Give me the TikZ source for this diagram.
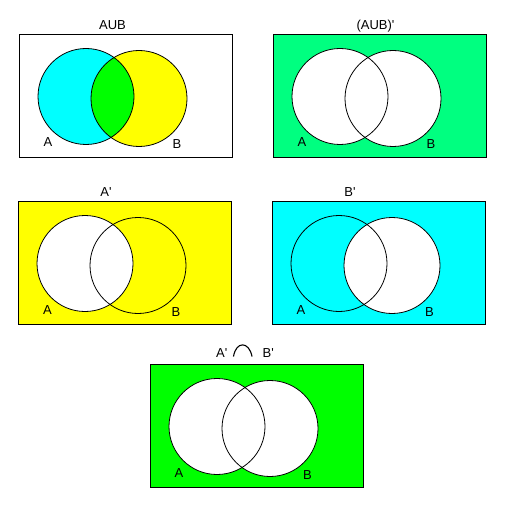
\documentclass[tikz,border=0pt]{standalone}
\usepackage{fontspec}
\setmainfont{Liberation Sans}[Ligatures=TeXOff]
\definecolor{springgrn}{RGB}{0,255,128}
\definecolor{purecyan}{RGB}{0,255,255}
\definecolor{pureyellow}{RGB}{255,255,0}
\definecolor{puregreen}{RGB}{0,255,0}
\tikzset{
    outline/.style={draw=black, line width=0.8pt},
    txt/.style={font=\fontsize{13}{15}\selectfont, inner sep=0pt, anchor=base},
}
\begin{document}
\begin{tikzpicture}[x=1pt, y=-1pt]
        \useasboundingbox (0,0) rectangle (526,510);
        % A U B
        \begin{scope}[shift={(19,34)}]
            \fill[purecyan] (67,62.5) circle (48pt);
            \fill[pureyellow] (120,64.5) circle (48pt);
            \begin{scope}
                \clip (67,62.5) circle (48pt);
                \fill[puregreen] (120,64.5) circle (48pt);
            \end{scope}
            \draw[outline] (67,62.5) circle (48pt);
            \draw[outline] (120,64.5) circle (48pt);
            \draw[outline] (0,0) rectangle (213,123);
            \node[txt] (t1) at (93.5,-4.7) {AUB};
            \node[txt] (a1) at (29,113) {A};
            \node[txt] (b1) at (158,114.7) {B};
        \end{scope}
        % (A U B)'
        \begin{scope}[shift={(273,34)}]
            \fill[springgrn] (0,0) rectangle (213,123);
            \fill[white] (67,62.5) circle (48pt);
            \fill[white] (120,64.5) circle (48pt);
            \draw[outline] (67,62.5) circle (48pt);
            \draw[outline] (120,64.5) circle (48pt);
            \draw[outline] (0,0) rectangle (213,123);
            \node[txt] (t2) at (102.5,-4.7) {(AUB)'};
            \node[txt] (a2) at (29,113) {A};
            \node[txt] (b2) at (158,114.7) {B};
        \end{scope}
        % A'
        \begin{scope}[shift={(18,201)}]
            \fill[pureyellow] (0,0) rectangle (213,123);
            \fill[white] (67,62.5) circle (48pt);
            \draw[outline] (67,62.5) circle (48pt);
            \draw[outline] (120,64.5) circle (48pt);
            \draw[outline] (0,0) rectangle (213,123);
            \node[txt] (t3) at (88,-4.5) {A'};
            \node[txt] (a3) at (29.5,113) {A};
            \node[txt] (b3) at (158,115.5) {B};
        \end{scope}
        % B'
        \begin{scope}[shift={(272,201)}]
            \fill[purecyan] (0,0) rectangle (213,123);
            \fill[white] (120,64.5) circle (48pt);
            \draw[outline] (67,62.5) circle (48pt);
            \draw[outline] (120,64.5) circle (48pt);
            \draw[outline] (0,0) rectangle (213,123);
            \node[txt] (t4) at (78,-4.5) {B'};
            \node[txt] (a4) at (29,113) {A};
            \node[txt] (b4) at (157.5,115.5) {B};
        \end{scope}
        % A' n B'
        \begin{scope}[shift={(150,364)}]
            \fill[puregreen] (0,0) rectangle (213,123);
            \fill[white] (67,62.5) circle (48pt);
            \fill[white] (120,64.5) circle (48pt);
            \draw[outline] (67,62.5) circle (48pt);
            \draw[outline] (120,64.5) circle (48pt);
            \draw[outline] (0,0) rectangle (213,123);
            \node[txt, anchor=base east] (t5a) at (77.5,-7) {A'};
            \draw[line width=1.1pt] (83.5,-7.5) .. controls (86,-23) and (99,-23) .. (102,-7.5);
            \node[txt, anchor=base west] (t5b) at (112.5,-7) {B'};
            \node[txt] (a5) at (29,113) {A};
            \node[txt] (b5) at (157.5,115) {B};
        \end{scope}
    \end{tikzpicture}
\end{document}
